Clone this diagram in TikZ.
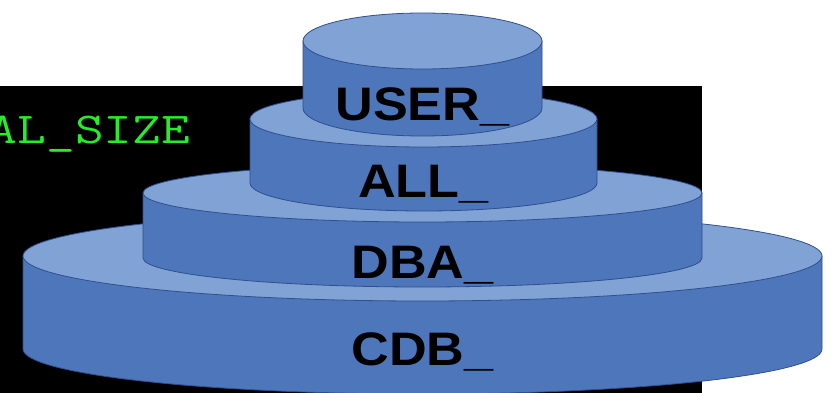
\documentclass[tikz,border=0pt]{standalone}
\usepackage{fontspec}
\newfontfamily\lblfont{Liberation Sans}[FakeStretch=1.11]
\newfontfamily\termfont{Latin Modern Mono}[FakeStretch=1.27]
\definecolor{cylside}{RGB}{77,119,186}
\definecolor{cyltop}{RGB}{128,162,212}
\definecolor{cylline}{RGB}{47,79,143}
\definecolor{termgreen}{RGB}{40,236,40}

\tikzset{
  sideface/.style={fill=cylside, draw=cylline, line width=0.8pt},
  topface/.style={fill=cyltop, draw=cylline, line width=0.8pt},
  tierlabel/.style={anchor=base, inner sep=0pt, text=black,
    font=\lblfont\bfseries\fontsize{47}{47}\selectfont},
  termtext/.style={anchor=base west, inner sep=0pt, text=termgreen,
    font=\termfont\fontsize{44}{44}\selectfont},
}

% one tier of the stack:
% #1 node name, #2 centre x, #3 half width, #4 top face y, #5 bottom rim y,
% #6 vertical radius, #7 label, #8 label baseline y
\newcommand\stacktier[8]{%
  \path[sideface] ({#2-#3},-#4) -- ({#2-#3},-#5)
    arc[start angle=180, end angle=360, x radius=#3, y radius=#6]
    -- ({#2+#3},-#4) -- cycle;
  \path[topface] (#2,-#4) ellipse[x radius=#3, y radius=#6];
  \node[tierlabel] (#1) at (#2,-#8) {#7};
}

\begin{document}
\begin{tikzpicture}[x=1pt,y=1pt]
  \useasboundingbox (0,0) rectangle (836,-393);
  % terminal window behind the stack
  \fill[black] (-10,-86) rectangle (702,-400);
  \node[termtext] (sizecol) at (-11.5,-144) {AL\_SIZE};
  % tiers, widest first
  \stacktier{cdb}{422.5}{399.5}{256}{349}{45}{CDB\_}{365}
  \stacktier{dba}{422.5}{279.5}{193}{258}{29}{DBA\_}{278}
  \stacktier{all}{423.5}{173.5}{119}{183}{28}{ALL\_}{198}
  \stacktier{user}{422.5}{119.5}{41}{108}{28}{USER\_}{121}
\end{tikzpicture}
\end{document}
